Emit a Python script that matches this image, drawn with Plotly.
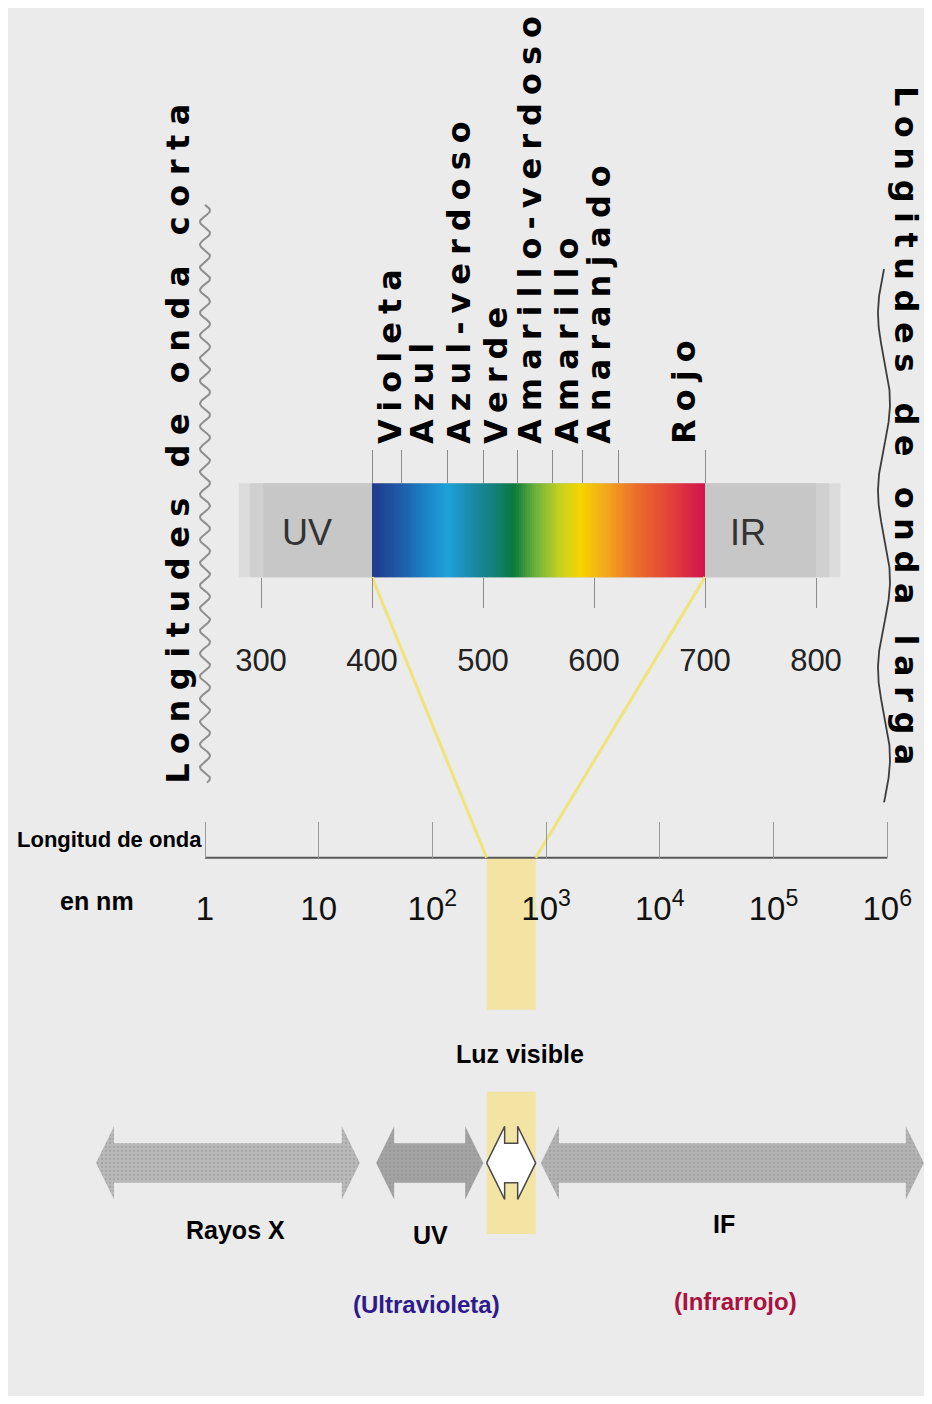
import numpy as np
import plotly.graph_objects as go

# la página deja 8 px de margen: la figura ocupa de 8 a 924 (x) y de 8 a 1396 (y)
M = 8
FW, FH = 916, 1388

nm_colores = [400, 425, 450, 468, 490, 510, 528, 548, 570, 588, 612, 640, 670, 700]
colores = ["#1c3a8a", "#1f5aa8", "#1a86c8", "#1ea2da", "#1a8aa8", "#12807a", "#0a7a3c",
           "#6fb43c", "#c9d21e", "#f5d400", "#f3a51d", "#ea6a2a", "#e2403a", "#d0124c"]

# Nombres de los colores sobre el espectro (posición en nm) y sus límites
nombres_colores = ["Violeta", "Azul", "Azul-verdoso", "Verde", "Amarillo-verdoso",
                   "Amarillo", "Anaranjado", "Rojo"]
pos_nombres = [417, 446, 479, 512, 543, 576, 605, 682]
limites_colores = [400, 427, 468, 500, 531, 563, 590, 622, 700]

# Escala lineal del detalle (nm)
ticks_detalle = [300, 400, 500, 600, 700, 800]
banda_gris = [280, 822]
visible = [400, 700]

# Escala logarítmica general (nm)
ticks_log = [1, 10, 1e2, 1e3, 1e4, 1e5, 1e6]
ticks_log_texto = ["1", "10", "10<sup>2</sup>", "10<sup>3</sup>", "10<sup>4</sup>",
                   "10<sup>5</sup>", "10<sup>6</sup>"]

# Regiones del espectro (nm) bajo la escala logarítmica
regiones = ["Rayos X", "UV", "Luz visible", "IF"]
reg_inicio = [0.11, 32, 300, 900]
reg_fin = [23, 280, 810, 2.1e6]
reg_colores = ["#b9b9b9", "#a3a3a3", "#ffffff", "#b3b3b3"]

# rangos de los ejes (lineal: 1.11 px/nm, log: 113.7 px/década, 1 nm en x=205)
RANGO_LIN = [(M + 72) / 1.11, (M + FW + 72) / 1.11]
RANGO_LOG = [(M - 205) / 113.7, (M + FW - 205) / 113.7]

SANS = "Liberation Sans"
BOLD = "DejaVu Sans"


def px_lin(v):
    return M + (v - RANGO_LIN[0]) / (RANGO_LIN[1] - RANGO_LIN[0]) * FW


def px_log(v):
    return M + (np.log10(v) - RANGO_LOG[0]) / (RANGO_LOG[1] - RANGO_LOG[0]) * FW


def pos_y(py):
    return 1 - (py - M) / FH


def espaciado(t, sp):
    return f'<span style="letter-spacing:{sp}px">{t}</span>'


fig = go.Figure()

# banda gris de fondo del detalle (degradada en los extremos)
for d, c in [(0, "#dcdcdc"), (10, "#d0d0d0"), (22, "#c7c7c7")]:
    fig.add_shape(type="rect", xref="x", yref="y", x0=banda_gris[0] + d, x1=banda_gris[1] - d,
                  y0=472, y1=567, fillcolor=c, line_width=0, layer="below")

# espectro de colores
bordes = np.arange(visible[0], visible[1] + 1, 2)
centros = (bordes[:-1] + bordes[1:]) / 2
escala = [[(n - visible[0]) / (visible[1] - visible[0]), c] for n, c in zip(nm_colores, colores)]
fig.add_trace(go.Heatmap(x=bordes, y=[472, 567], z=[centros], colorscale=escala,
                         zmin=visible[0], zmax=visible[1], showscale=False,
                         hoverinfo="skip", xaxis="x", yaxis="y"))

# banda amarilla de la luz visible en la escala logarítmica
for y0, y1 in [(851, 1005), (1088, 1232)]:
    fig.add_shape(type="rect", xref="x2", yref="y", x0=reg_inicio[2], x1=reg_fin[2],
                  y0=y0, y1=y1, fillcolor="rgba(246,226,140,0.75)", line_width=0, layer="below")

# líneas amarillas que unen el detalle con la escala general
for a, b in [(visible[0], reg_inicio[2]), (visible[1], reg_fin[2])]:
    fig.add_trace(go.Scatter(x=[px_lin(a), px_log(b)], y=[567, 851], mode="lines",
                             line=dict(color="#efe47a", width=3), hoverinfo="skip",
                             xaxis="x4", yaxis="y", showlegend=False))

# eje logarítmico (línea)
fig.add_trace(go.Scatter(x=[ticks_log[0], ticks_log[-1]], y=[851, 851], mode="lines",
                         line=dict(color="#5a5a5a", width=2), hoverinfo="skip",
                         xaxis="x2", yaxis="y", showlegend=False))

# flechas de las regiones
L = 18 / 113.7
yc = 1160
for nombre, a, b, col in zip(regiones, reg_inicio, reg_fin, reg_colores):
    la, lb = np.log10(a), np.log10(b)
    xs = [la, la + L, la + L, lb - L, lb - L, lb, lb - L, lb - L, la + L, la + L, la]
    ys = [yc, yc - 37, yc - 20, yc - 20, yc - 37, yc, yc + 37, yc + 20, yc + 20, yc + 37, yc]
    es_visible = nombre == "Luz visible"
    fig.add_trace(go.Scatter(
        x=[10 ** v for v in xs], y=ys, mode="lines", fill="toself",
        fillcolor=col,
        fillpattern=None if es_visible else dict(shape=".", fgcolor="#8f8f8f", bgcolor=col,
                                                 size=4, solidity=0.25),
        line=dict(color="#4a4a4a" if es_visible else col, width=1.5 if es_visible else 0),
        hoverinfo="skip", xaxis="x2", yaxis="y", showlegend=False))

# ondas decorativas: corta (izquierda) y larga (derecha)
yy = np.linspace(190, 775, 600)
fig.add_trace(go.Scatter(x=205 + 5 * np.sin((yy - 190) / 23 * 2 * np.pi), y=yy, mode="lines",
                         line=dict(color="#8e8e8e", width=2), hoverinfo="skip",
                         xaxis="x4", yaxis="y", showlegend=False))
yy = np.linspace(255, 795, 400)
fig.add_trace(go.Scatter(x=884 - 6 * np.sin((yy - 255) / 180 * 2 * np.pi), y=yy, mode="lines",
                         line=dict(color="#3c3c3c", width=1.8), hoverinfo="skip",
                         xaxis="x4", yaxis="y", showlegend=False))

# traza invisible para el eje de nombres de colores
fig.add_trace(go.Scatter(x=pos_nombres, y=[472] * len(pos_nombres), mode="markers",
                         marker=dict(opacity=0), hoverinfo="skip",
                         xaxis="x3", yaxis="y", showlegend=False))


# textos (x, y en píxeles de la página)
def texto(t, x, y, size=26, color="black", family=SANS, angle=0, xanchor="center",
          weight="bold"):
    fig.add_annotation(text=t, x=(x - M) / FW, y=y, xref="paper", yref="y", showarrow=False,
                       xanchor=xanchor, yanchor="middle", textangle=angle,
                       font=dict(family=family, size=size, color=color, weight=weight))


texto("UV", 307, 522, size=36, color="#333333", weight="normal")
texto("IR", 748, 522, size=36, color="#333333", weight="normal")
texto("Longitud de onda", 204, 833, size=22, xanchor="right")
texto("en nm", 97, 895, size=25)
texto("Luz visible", 520, 1050, size=25)
texto("Rayos X", 235, 1228, size=25)
texto("UV", 430, 1233, size=25)
texto("IF", 724, 1222, size=25)
texto("(Ultravioleta)", 426, 1303, size=24, color="#2e1a8a")
texto("(Infrarrojo)", 735, 1300, size=24, color="#a8123f")
texto(espaciado("Longitudes de onda corta", 9.5), 178, 427, size=32, family=BOLD,
      angle=-90)
texto(espaciado("Longitudes de onda larga", 9.5), 906, 418, size=32, family=BOLD,
      angle=90)

fig.update_layout(
    width=FW, height=FH,
    margin=dict(l=0, r=0, t=0, b=0),
    paper_bgcolor="#ebebeb",
    plot_bgcolor="rgba(0,0,0,0)",
    showlegend=False,
    xaxis=dict(range=RANGO_LIN, domain=[0, 1], anchor="free", position=pos_y(567),
               side="bottom", showgrid=False, zeroline=False, showline=False,
               tickmode="array", tickvals=ticks_detalle, ticks="outside", ticklen=30,
               tickcolor="#8c8c8c", tickwidth=1, ticklabelstandoff=26,
               tickfont=dict(family=SANS, size=31, color="#222222"), fixedrange=True),
    xaxis2=dict(type="log", range=RANGO_LOG, overlaying="x", anchor="free",
                position=pos_y(851), side="bottom", showgrid=False, zeroline=False,
                showline=False, tickmode="array", tickvals=ticks_log, ticktext=ticks_log_texto,
                ticks="inside", ticklen=36, tickcolor="#9a9a9a", tickwidth=1,
                ticklabelstandoff=28, tickfont=dict(family=SANS, size=33, color="#111111"),
                fixedrange=True),
    xaxis3=dict(range=RANGO_LIN, overlaying="x", anchor="free", position=pos_y(472),
                side="top", showgrid=False, zeroline=False, showline=False,
                tickmode="array", tickvals=pos_nombres,
                ticktext=[espaciado(t, 8) for t in nombres_colores],
                tickangle=-90, ticks="outside", ticklen=33, tickcolor="rgba(0,0,0,0)",
                minor=dict(tickmode="array", tickvals=limites_colores, ticks="outside",
                           ticklen=33, tickcolor="#8a8a8a", tickwidth=1),
                tickfont=dict(family=BOLD, size=32, color="black", weight="bold"),
                fixedrange=True),
    xaxis4=dict(range=[M, M + FW], overlaying="x", visible=False, fixedrange=True),
    yaxis=dict(range=[M + FH, M], domain=[0, 1], visible=False, fixedrange=True),
)

fig.write_html("out.html")
